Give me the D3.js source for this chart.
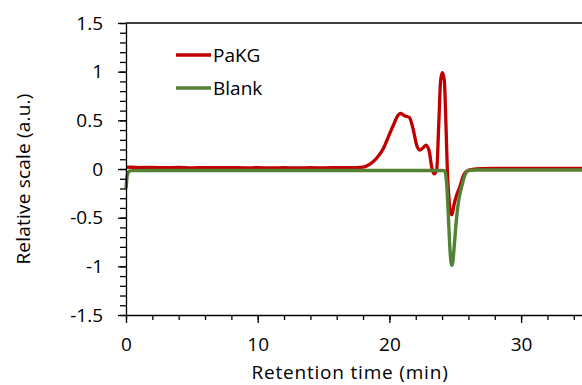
<!DOCTYPE html>
<html><head><meta charset="utf-8">
<script src="https://cdn.jsdelivr.net/npm/d3@7"></script>
<style>body{margin:0;background:#fff;overflow:hidden}svg{display:block}text{font-family:"Open Sans",Lato,sans-serif;fill:#000}</style>
</head><body><svg id="c" width="582" height="385"></svg>
<script>
const seriesNames = ["PaKG", "Blank"];
const seriesColors = ["#C00000", "#548235"];
const xTicks = [0, 10, 20, 30];
const yTicks = [-1.5, -1, -0.5, 0, 0.5, 1, 1.5];
const yTickLabels = ["-1.5", "-1", "-0.5", "0", "0.5", "1", "1.5"];

const pakgTime = [0, 0.5, 1, 2, 3, 4, 5, 6, 7, 8, 9, 10, 11, 12, 13, 14, 15, 16, 17, 17.5, 18.02, 18.53, 19.03, 19.54, 19.92, 20.3, 20.68, 20.86, 21.18, 21.51, 21.82, 22.07, 22.32, 22.58, 22.78, 23.03, 23.21, 23.39, 23.59, 23.74, 23.89, 24.02, 24.17, 24.3, 24.4, 24.48, 24.66, 24.75, 24.9, 25.1, 25.36, 25.61, 25.92, 26.3, 27, 28, 30, 32, 34, 36, 38, 40];
const pakgValue = [0.02, 0.018, 0.015, 0.017, 0.013, 0.016, 0.012, 0.015, 0.013, 0.014, 0.012, 0.013, 0.011, 0.013, 0.012, 0.013, 0.012, 0.013, 0.014, 0.015, 0.02, 0.05, 0.11, 0.21, 0.33, 0.45, 0.555, 0.57, 0.545, 0.53, 0.4, 0.245, 0.195, 0.22, 0.245, 0.18, 0.02, -0.05, -0.01, 0.43, 0.91, 0.99, 0.91, 0.43, -0.01, -0.22, -0.455, -0.47, -0.37, -0.27, -0.18, -0.07, -0.017, -0.005, 0.004, 0.006, 0.005, 0.006, 0.005, 0.006, 0.005, 0.005];

const blankTime = [0, 0.05, 0.1, 0.2, 0.3, 0.5, 2, 5, 10, 15, 20, 24.0, 24.2, 24.35, 24.48, 24.6, 24.73, 24.8, 24.9, 25.06, 25.23, 25.49, 25.74, 26.0, 26.5, 28, 30, 35, 40];
const blankValue = [-0.2, -0.12, -0.06, -0.03, -0.02, -0.017, -0.016, -0.016, -0.016, -0.016, -0.016, -0.016, -0.02, -0.15, -0.49, -0.83, -0.99, -0.97, -0.83, -0.56, -0.35, -0.18, -0.06, -0.015, -0.01, -0.01, -0.01, -0.01, -0.01];

const FS = 19;
const svg = d3.select("#c");
const x = d3.scaleLinear().domain([0, 40]).range([126, 126 + 40 * 13.17]);
const y = d3.scaleLinear().domain([-1.5, 1.5]).range([315, 23]);

const line = d3.line().x(d => x(d[0])).y(d => y(d[1])).curve(d3.curveMonotoneX);
const pakg = pakgTime.map((t, i) => [t, pakgValue[i]]);
const blank = blankTime.map((t, i) => [t, blankValue[i]]);

svg.append("line").attr("x1", x(0)).attr("x2", 700).attr("y1", y(1.5)).attr("y2", y(1.5))
  .attr("stroke", "#000").attr("stroke-width", 1.3);

svg.append("path").datum(pakg).attr("d", line).attr("fill", "none")
  .attr("stroke", seriesColors[0]).attr("stroke-width", 3.3).attr("stroke-linejoin", "round");
svg.append("path").datum(blank).attr("d", line).attr("fill", "none")
  .attr("stroke", seriesColors[1]).attr("stroke-width", 3.4).attr("stroke-linejoin", "round");

const yMinor = d3.range(-15, 16).map(v => v / 10);
svg.append("g").attr("transform", `translate(${x(0)},0)`)
  .call(d3.axisLeft(y).tickValues(yMinor).tickSize(6).tickFormat(""))
  .call(g => g.selectAll("line").attr("stroke-width", 1.3))
  .call(g => g.select(".domain").remove());
svg.append("g").attr("transform", `translate(${x(0)},0)`)
  .call(d3.axisLeft(y).tickValues(yTicks).tickSize(8).tickSizeOuter(0).tickPadding(15)
    .tickFormat((d, i) => yTickLabels[i]))
  .call(g => g.selectAll("line").attr("stroke-width", 1.3))
  .call(g => g.select(".domain").attr("stroke-width", 1.3))
  .call(g => g.selectAll("text").attr("font-size", FS).attr("font-family", "Open Sans"));

const xMinor = d3.range(0, 41, 2);
svg.append("g").attr("transform", `translate(0,${y(-1.5)})`)
  .call(d3.axisBottom(x).tickValues(xMinor).tickSize(5).tickFormat(""))
  .call(g => g.selectAll("line").attr("stroke-width", 1.3))
  .call(g => g.select(".domain").remove());
svg.append("g").attr("transform", `translate(0,${y(-1.5)})`)
  .call(d3.axisBottom(x).tickValues(xTicks).tickSize(8).tickSizeOuter(0).tickPadding(15))
  .call(g => g.selectAll("line").attr("stroke-width", 1.3))
  .call(g => g.select(".domain").attr("stroke-width", 1.3))
  .call(g => g.selectAll("text").attr("font-size", FS).attr("font-family", "Open Sans"));

svg.append("text").attr("x", 350).attr("y", 379).attr("text-anchor", "middle")
  .attr("font-size", FS).attr("letter-spacing", 0.8).text("Retention time (min)");
svg.append("text").attr("transform", "translate(30,179) rotate(-90)").attr("text-anchor", "middle")
  .attr("font-size", FS).attr("letter-spacing", 0.2).text("Relative scale (a.u.)");

const legY = [55, 88];
seriesNames.forEach((n, i) => {
  svg.append("line").attr("x1", 176).attr("x2", 211).attr("y1", legY[i]).attr("y2", legY[i])
    .attr("stroke", seriesColors[i]).attr("stroke-width", 3.3);
  svg.append("text").attr("x", 213).attr("y", legY[i]).attr("dy", "0.35em")
    .attr("font-size", FS).text(n);
});
</script></body></html>
